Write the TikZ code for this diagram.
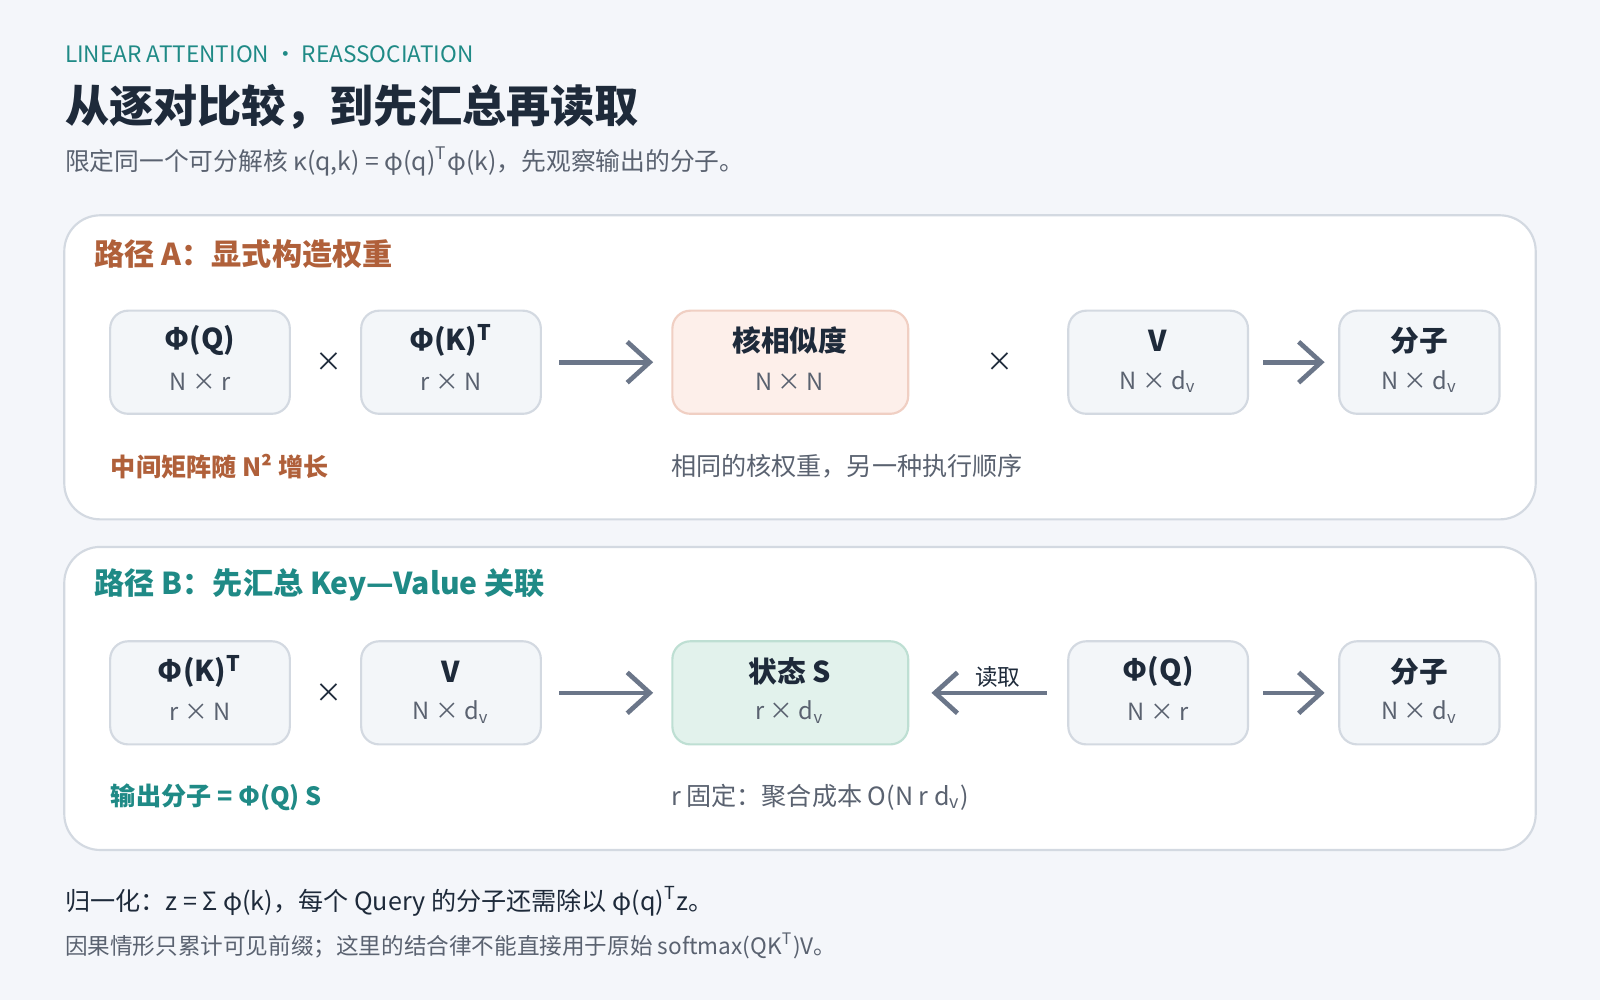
\documentclass[tikz,border=0pt]{standalone}
\usepackage{fontspec}
\setmainfont{Noto Sans CJK SC}
\usetikzlibrary{arrows.meta}
\definecolor{bg}{HTML}{F4F6FA}
\definecolor{teal}{HTML}{1F8A86}
\definecolor{dark}{HTML}{1E2A3A}
\definecolor{gry}{HTML}{5A6270}
\definecolor{brn}{HTML}{B0603A}
\definecolor{bx}{HTML}{F3F6F9}
\definecolor{bxd}{HTML}{D3D9E1}
\definecolor{pk}{HTML}{FDEFEA}
\definecolor{pkd}{HTML}{F0CFC3}
\definecolor{gn}{HTML}{E2F2EC}
\definecolor{gnd}{HTML}{BEDFD3}
\definecolor{arr}{HTML}{6B7689}
\newcommand{\tsup}{\textsuperscript{T}}
\tikzset{
 panel/.style={draw=bxd,fill=white,rounded corners=10pt,line width=0.6pt},
 box/.style={draw=bxd,fill=bx,rounded corners=5pt,line width=0.6pt,minimum height=1.01cm,align=center,inner sep=0pt},
 mt/.style={font=\fontsize{8}{9}\selectfont\bfseries,text=dark},
 st/.style={font=\fontsize{6.6}{8}\selectfont,text=gry},
 lab/.style={anchor=west,inner sep=0pt},
 ar/.style={-{Straight Barb[length=2.2mm,width=4mm]},draw=arr,line width=1.3pt},
 tm/.style={font=\fontsize{7.5}{8}\selectfont,text=dark}
}
\begin{document}
\begin{tikzpicture}[x=0.01cm,y=-0.01cm]
\fill[bg] (0,0) rectangle (1568,980);
\useasboundingbox (0,0) rectangle (1568,980);
\node[lab,text=teal,font=\fontsize{6.3}{7}\selectfont] (t1) at (63,53) {LINEAR ATTENTION · REASSOCIATION};
\node[lab,text=dark,font=\fontsize{12.3}{13}\selectfont\bfseries] (t2) at (63,105) {从逐对比较，到先汇总再读取};
\node[lab,text=gry,font=\fontsize{6.9}{8}\selectfont] (t3) at (63,158) {限定同一个可分解核 κ(q,k) = φ(q)\tsup φ(k)，先观察输出的分子。};
\draw[panel] (63,211) rectangle (1505,509);
\draw[panel] (63,536) rectangle (1505,833);
\node[lab,text=brn,font=\fontsize{8.4}{9}\selectfont\bfseries] (ha) at (92,249) {路径 A：显式构造权重};
\node[lab,text=teal,font=\fontsize{8.4}{9}\selectfont\bfseries] (hb) at (92,573) {路径 B：先汇总 Key—Value 关联};
% row A
\foreach \n/\x/\w in {a1/196/1.76, a2/442/1.76, a4/1135/1.76, a5/1391/1.57}{\node[box,minimum width=\w cm] (\n) at (\x,355) {};}
\node[box,minimum width=2.31cm,fill=pk,draw=pkd] (a3) at (774.5,355) {};
\node[mt] at (196,334) {Φ(Q)}; \node[st] at (196,374) {N × r};
\node[mt] at (442,334) {Φ(K)\tsup}; \node[st] at (442,374) {r × N};
\node[mt] at (774,334) {核相似度}; \node[st] at (774,374) {N × N};
\node[mt] at (1135,334) {V}; \node[st] at (1135,374) {N × d$_\mathrm{v}$};
\node[mt] at (1391,334) {分子}; \node[st] at (1391,374) {N × d$_\mathrm{v}$};
\node[tm] (xa1) at (322,355) {×}; \node[tm] (xa2) at (980,355) {×};
\draw[ar] (a2.east)++(17,0) -- ++(92,0);
\draw[ar] (a4.east)++(14,0) -- ++(60,0);
\node[lab,text=brn,font=\fontsize{7}{8}\selectfont\bfseries] (na) at (108,457) {中间矩阵随 N² 增长};
\node[lab,text=gry,font=\fontsize{7}{8}\selectfont] (ma) at (657,457) {相同的核权重，另一种执行顺序};
% row B
\foreach \n/\x/\w in {b1/196/1.76, b2/442/1.76, b4/1135/1.76, b5/1391/1.57}{\node[box,minimum width=\w cm] (\n) at (\x,679) {};}
\node[box,minimum width=2.31cm,fill=gn,draw=gnd] (b3) at (774.5,679) {};
\node[mt] at (196,658) {Φ(K)\tsup}; \node[st] at (196,698) {r × N};
\node[mt] at (442,658) {V}; \node[st] at (442,698) {N × d$_\mathrm{v}$};
\node[mt] at (774,658) {状态 S}; \node[st] at (774,698) {r × d$_\mathrm{v}$};
\node[mt] at (1135,658) {Φ(Q)}; \node[st] at (1135,698) {N × r};
\node[mt] at (1391,658) {分子}; \node[st] at (1391,698) {N × d$_\mathrm{v}$};
\node[tm] (xb1) at (322,679) {×};
\draw[ar] (b2.east)++(17,0) -- ++(92,0);
\draw[ar] (b4.west)++(-20,0) -- ++(-113,0);
\node[text=dark,font=\fontsize{6.3}{7}\selectfont] (rd) at (978,663) {读取};
\draw[ar] (b4.east)++(14,0) -- ++(60,0);
\node[lab,text=teal,font=\fontsize{7}{8}\selectfont\bfseries] (nb) at (108,781) {输出分子 = Φ(Q) S};
\node[lab,text=gry,font=\fontsize{7}{8}\selectfont] (mb) at (657,781) {r 固定：聚合成本 O(N r d$_\mathrm{v}$)};
\node[lab,text=dark,font=\fontsize{7}{8}\selectfont] (f1) at (63,883) {归一化：z = Σ φ(k)，每个 Query 的分子还需除以 φ(q)\tsup z。};
\node[lab,text=gry,font=\fontsize{6.3}{7}\selectfont] (f2) at (63,927) {因果情形只累计可见前缀；这里的结合律不能直接用于原始 softmax(QK\tsup)V。};
\end{tikzpicture}
\end{document}
